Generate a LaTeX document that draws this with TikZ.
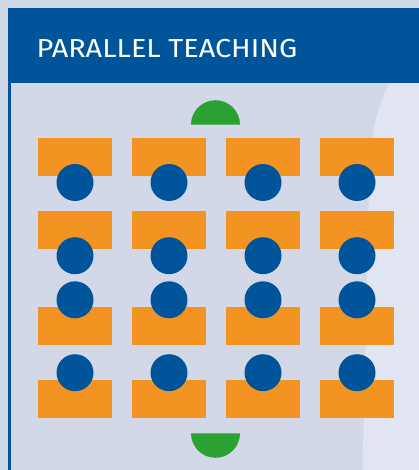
\documentclass[tikz,border=0pt]{standalone}
\usepackage{fontspec}
\setmainfont{Fira Sans}
\newfontfamily\titlefont[FakeStretch=1.11]{Fira Sans}
\definecolor{bgl}{RGB}{211,216,232}
\definecolor{bgr}{RGB}{225,228,241}
\definecolor{hblue}{RGB}{0,85,154}
\definecolor{dorange}{RGB}{242,147,34}
\definecolor{sgreen}{RGB}{42,161,48}
\tikzset{
  desk/.style={fill=dorange, draw=none, minimum width=74pt, minimum height=38pt, inner sep=0pt, rectangle},
  pupil/.style={fill=hblue, draw=none, circle, minimum size=37pt, inner sep=0pt},
  teacher/.style={fill=sgreen, draw=none}
}
\begin{document}
\begin{tikzpicture}[x=1pt,y=-1pt]
\useasboundingbox (0,0) rectangle (419,470);
\fill[bgl] (0,0) rectangle (419,470);
% lighter region at right
\begin{scope}
\clip (0,83) rectangle (419,470);
\fill[bgr] (398,70) .. controls (380,96) and (371,122) .. (369,180)
  .. controls (367,280) and (364,400) .. (362.5,470) -- (419,470) -- (419,70) -- cycle;
\end{scope}
% header
\fill[hblue] (8,8) rectangle (419,83);
\fill[hblue] (8,83) rectangle (11,470);
\node[anchor=base west, inner sep=0pt, text=white, font=\titlefont\fontsize{26}{26}\selectfont] (title) at (36.5,57.3) {PARALLEL TEACHING};
% teachers
\fill[teacher] (191,124.7) arc[start angle=180, end angle=360, radius=24.5] -- cycle;
\fill[teacher] (191,433.3) arc[start angle=180, end angle=0, radius=24.5] -- cycle;
% desks and pupils
\foreach \c/\x in {1/75,2/169,3/263,4/357}{
  \node[desk] (d1\c) at (\x,157) {};
  \node[desk] (d2\c) at (\x,230) {};
  \node[desk] (d3\c) at (\x,325.8) {};
  \node[desk] (d4\c) at (\x,399) {};
  \node[pupil] (p1\c) at (\x,182.5) {};
  \node[pupil] (p2\c) at (\x,255.7) {};
  \node[pupil] (p3\c) at (\x,299.8) {};
  \node[pupil] (p4\c) at (\x,372.7) {};
}
\end{tikzpicture}
\end{document}
